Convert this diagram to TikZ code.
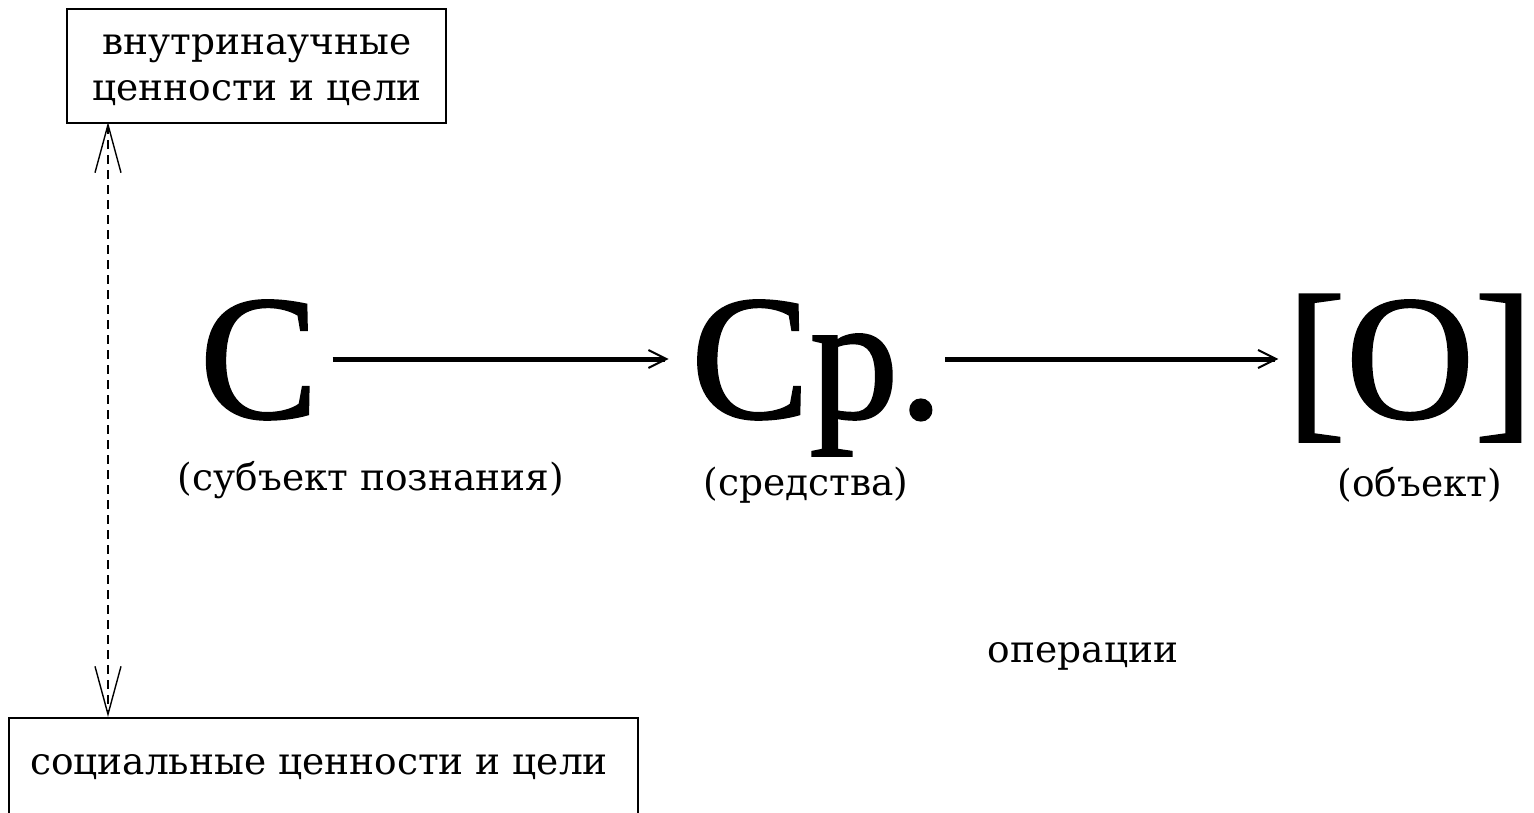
\documentclass[tikz,border=0pt]{standalone}
\usepackage{fontspec}
\setmainfont{DejaVu Serif}
\newfontfamily\bigfont{Liberation Serif}[FakeBold=1.2]
\usetikzlibrary{arrows.meta}
\begin{document}
\begin{tikzpicture}[x=1pt,y=-1pt,
  txt/.style={font=\fontsize{37.5}{46}\selectfont, inner sep=0pt, align=center},
  big/.style={font=\bigfont\fontsize{178}{180}\selectfont, inner xsep=0pt, inner ysep=0pt, text height=140pt, text depth=22pt},
  boxed/.style={draw, line width=1.6pt},
  mainarrow/.style={line width=5pt, -{Straight Barb[length=18pt,width=18pt,line width=2pt]}},
  dasharrow/.style={dashed, line width=1.4pt, dash pattern=on 9pt off 6pt, {Straight Barb[length=48pt,width=26pt,line width=1.4pt]}-{Straight Barb[length=48pt,width=26pt,line width=1.4pt]}}
]
\useasboundingbox[fill=white] (0,0) rectangle (1534,812);
% boxes
\node[boxed, minimum width=379pt, minimum height=114pt, anchor=north west] (top) at (66,8) {};
\node[txt] (toptext) at (257,70) {внутринаучные\\ценности и цели};
\node[boxed, minimum width=629pt, minimum height=140pt, anchor=north west] (bot) at (8,717) {};
\node[txt] (bottext) at (319,767) {социальные ценности и цели};
% big letters
\node[big] (S) at (259,359) {С};
\node[big] (Sr) at (817,359) {Ср.};
\node[big] (O) at (1410,359) {[О]};
% labels
\node[txt] (lS) at (371,480) {(субъект познания)};
\node[txt] (lSr) at (806,485) {(средства)};
\node[txt] (lO) at (1420,485) {(объект)};
\node[txt] (op) at (1083,656) {операции};
% arrows
\draw[mainarrow, shorten <=14pt, shorten >=22pt] (S.east) -- (Sr.west);
\draw[mainarrow, shorten <=2pt, shorten >=8pt] (Sr.east) -- (O.west);
\coordinate (dtop) at (108,122);
\coordinate (dbot) at (108,717);
\draw[dasharrow] (dtop) -- (dbot);
\end{tikzpicture}
\end{document}
